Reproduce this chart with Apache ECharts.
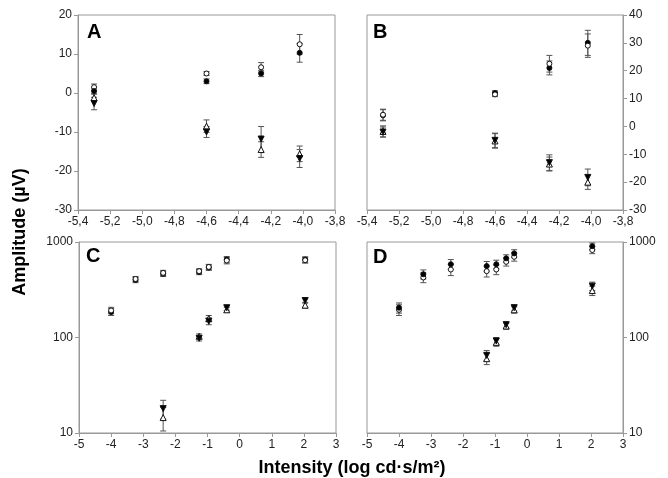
<!DOCTYPE html>
<html>
<head>
<meta charset="utf-8">
<script src="https://cdn.jsdelivr.net/npm/echarts@6/dist/echarts.min.js"></script>
<style>
  html, body { margin: 0; padding: 0; background: #fff; }
  #chart { width: 668px; height: 478px; }
</style>
</head>
<body>
<div id="chart"></div>
<script>
// panel A / B: dim intensities
var xAB = [-5.3, -4.6, -4.26, -4.02];
var xTicksAB = [-5.4, -3.8, 0.2];

var aFilledCircle = [0.5, 3.0, 5.0, 10.3];
var aFilledCircleErr = [0.8, 0.6, 0.8, 2.4];
var aOpenCircle = [1.5, 5.0, 6.6, 12.5];
var aOpenCircleErr = [0.8, 0.5, 1.2, 2.5];
var aFilledTri = [-2.7, -10.0, -11.8, -16.8];
var aFilledTriErr = [1.6, 1.4, 3.2, 2.3];
var aOpenTri = [-1.2, -8.5, -14.5, -15.6];
var aOpenTriErr = [1.0, 1.6, 2.0, 2.0];

var bFilledCircle = [4.0, 12.0, 21.0, 30.0];
var bFilledCircleErr = [2.0, 0.8, 2.5, 4.5];
var bOpenCircle = [4.2, 11.5, 22.5, 29.0];
var bOpenCircleErr = [2.0, 0.8, 3.0, 4.2];
var bFilledTri = [-2.0, -5.0, -13.0, -18.3];
var bFilledTriErr = [1.8, 2.6, 2.8, 3.0];
var bOpenTri = [-1.8, -5.2, -13.5, -20.0];
var bOpenTriErr = [2.0, 2.6, 2.5, 2.6];

// panel C / D: bright intensities, log amplitude
var xCUpper = [-4, -3.24, -2.38, -1.26, -0.96, -0.4, 2.04];
var xCLower = [-2.38, -1.26, -0.96, -0.4, 2.04];
var cFilledCircle = [185, 400, 465, 485, 540, 655, 655];
var cOpenCircle = [192, 410, 475, 495, 548, 640, 645];
var cCircleErr = [15, 25, 30, 30, 35, 50, 45];
var cFilledTri = [18, 98, 148, 205, 244];
var cOpenTri = [14.5, 103, 158, 195, 218];
var cTriErr = [4, 6, 12, 12, 15];

var xDUpper = [-4, -3.24, -2.38, -1.26, -0.96, -0.65, -0.4, 2.04];
var xDLower = [-1.26, -0.96, -0.65, -0.4, 2.04];
var dFilledCircle = [205, 460, 585, 560, 585, 675, 760, 905];
var dOpenCircle = [195, 425, 515, 495, 515, 620, 700, 825];
var dCircleErr = [25, 50, 70, 65, 60, 60, 70, 70];
var dFilledTri = [65, 92, 136, 205, 345];
var dOpenTri = [60, 89, 132, 195, 310];
var dTriErr = [8, 8, 10, 15, 35];

var FONT = 'Liberation Sans';
var AXIS_GRAY = '#999';

var chart = echarts.init(document.getElementById('chart'));

var grids = [
    {left: 78, top: 15, width: 257, height: 195},
    {left: 367, top: 15, width: 256, height: 195},
    {left: 79, top: 242, width: 257, height: 191},
    {left: 367, top: 242, width: 256, height: 191}
].map(function(g){
    return Object.assign({show: true, borderColor: AXIS_GRAY, borderWidth: 1, backgroundColor: '#fff'}, g);
});

var commaFmt = function(v){ return (+v).toFixed(1).replace('.', ','); };
var plainFmt = function(v){ return String(Math.round(v)); };

var baseAxis = {
    axisLine: {show: true, onZero: false, lineStyle: {color: AXIS_GRAY}},
    axisTick: {show: true, inside: false, length: 4, lineStyle: {color: AXIS_GRAY}},
    splitLine: {show: false},
    axisLabel: {color: '#222', fontSize: 12, fontFamily: FONT, margin: 6}
};

function xAxis(idx, min, max, interval, fmt){
    return echarts.util.merge({
        type: 'value', gridIndex: idx, min: min, max: max, interval: interval,
        axisLabel: {formatter: fmt}
    }, baseAxis, false);
}

var xAxes = [
    xAxis(0, xTicksAB[0], xTicksAB[1], xTicksAB[2], commaFmt),
    xAxis(1, xTicksAB[0], xTicksAB[1], xTicksAB[2], commaFmt),
    xAxis(2, -5, 3, 1, plainFmt),
    xAxis(3, -5, 3, 1, plainFmt)
];

var yAxes = [
    echarts.util.merge({type: 'value', gridIndex: 0, min: -30, max: 20, interval: 10}, baseAxis, false),
    echarts.util.merge({type: 'value', gridIndex: 1, min: -30, max: 40, interval: 10, position: 'right'}, baseAxis, false),
    echarts.util.merge({type: 'log', logBase: 10, gridIndex: 2, min: 10, max: 1000, minorTick: {show: false},
        axisLabel: {formatter: plainFmt}}, baseAxis, false),
    echarts.util.merge({type: 'log', logBase: 10, gridIndex: 3, min: 10, max: 1000, position: 'right', minorTick: {show: false},
        axisLabel: {formatter: plainFmt}}, baseAxis, false)
];

var series = [];

function pts(x, y){
    return x.map(function(v, i){ return [v, y[i]]; });
}

function errBars(idx, x, y, err){
    series.push({
        type: 'custom',
        xAxisIndex: idx, yAxisIndex: idx,
        z: 1,
        silent: true,
        encode: {x: 0, y: [1, 2]},
        data: x.map(function(v, i){ return [v, y[i] - err[i], y[i] + err[i]]; }),
        renderItem: function(params, api){
            var lo = api.coord([api.value(0), api.value(1)]);
            var hi = api.coord([api.value(0), api.value(2)]);
            var w = 3;
            var st = {stroke: '#555', lineWidth: 1};
            return {
                type: 'group',
                children: [
                    {type: 'line', shape: {x1: lo[0], y1: lo[1], x2: hi[0], y2: hi[1]}, style: st},
                    {type: 'line', shape: {x1: lo[0] - w, y1: lo[1], x2: lo[0] + w, y2: lo[1]}, style: st},
                    {type: 'line', shape: {x1: hi[0] - w, y1: hi[1], x2: hi[0] + w, y2: hi[1]}, style: st}
                ]
            };
        }
    });
}

var STYLES = {
    filledCircle: {symbol: 'circle', size: 5, fill: '#000'},
    openCircle: {symbol: 'circle', size: 5, fill: '#fff'},
    filledTri: {symbol: 'triangle', size: 6, fill: '#000', rotate: 180},
    openTri: {symbol: 'triangle', size: 6, fill: '#fff', rotate: 0}
};

function scatter(idx, x, y, err, kind){
    errBars(idx, x, y, err);
    var s = STYLES[kind];
    series.push({
        type: 'scatter',
        xAxisIndex: idx, yAxisIndex: idx,
        z: 2,
        symbol: s.symbol,
        symbolSize: s.size,
        symbolRotate: s.rotate || 0,
        itemStyle: {color: s.fill, borderColor: '#111', borderWidth: 1, opacity: 1},
        data: pts(x, y)
    });
}

scatter(0, xAB, aOpenTri, aOpenTriErr, 'openTri');
scatter(0, xAB, aFilledTri, aFilledTriErr, 'filledTri');
scatter(0, xAB, aOpenCircle, aOpenCircleErr, 'openCircle');
scatter(0, xAB, aFilledCircle, aFilledCircleErr, 'filledCircle');

scatter(1, xAB, bOpenTri, bOpenTriErr, 'openTri');
scatter(1, xAB, bFilledTri, bFilledTriErr, 'filledTri');
scatter(1, xAB, bFilledCircle, bFilledCircleErr, 'filledCircle');
scatter(1, xAB, bOpenCircle, bOpenCircleErr, 'openCircle');

scatter(2, xCLower, cOpenTri, cTriErr, 'openTri');
scatter(2, xCLower, cFilledTri, cTriErr, 'filledTri');
scatter(2, xCUpper, cFilledCircle, cCircleErr, 'filledCircle');
scatter(2, xCUpper, cOpenCircle, cCircleErr, 'openCircle');

scatter(3, xDLower, dOpenTri, dTriErr, 'openTri');
scatter(3, xDLower, dFilledTri, dTriErr, 'filledTri');
scatter(3, xDUpper, dOpenCircle, dCircleErr, 'openCircle');
scatter(3, xDUpper, dFilledCircle, dCircleErr, 'filledCircle');

function letter(txt, x, y){
    return {type: 'text', left: x, top: y, z: 10,
        style: {text: txt, fill: '#000', font: 'bold 20px "' + FONT + '"'}};
}

var option = {
    animation: false,
    backgroundColor: '#fff',
    grid: grids,
    xAxis: xAxes,
    yAxis: yAxes,
    series: series,
    graphic: [
        letter('A', 87, 22),
        letter('B', 373, 22),
        letter('C', 86, 246),
        letter('D', 373, 247),
        {type: 'text', x: 352, y: 468, z: 10,
            style: {text: 'Intensity (log cd·s/m²)', fill: '#000', font: 'bold 18px "' + FONT + '"',
                align: 'center', verticalAlign: 'middle'}},
        {type: 'text', x: 20, y: 232, rotation: Math.PI / 2, z: 10,
            style: {text: 'Amplitude (µV)', fill: '#000', font: 'bold 18px "' + FONT + '"',
                align: 'center', verticalAlign: 'middle'}}
    ]
};

chart.setOption(option);
</script>
</body>
</html>
